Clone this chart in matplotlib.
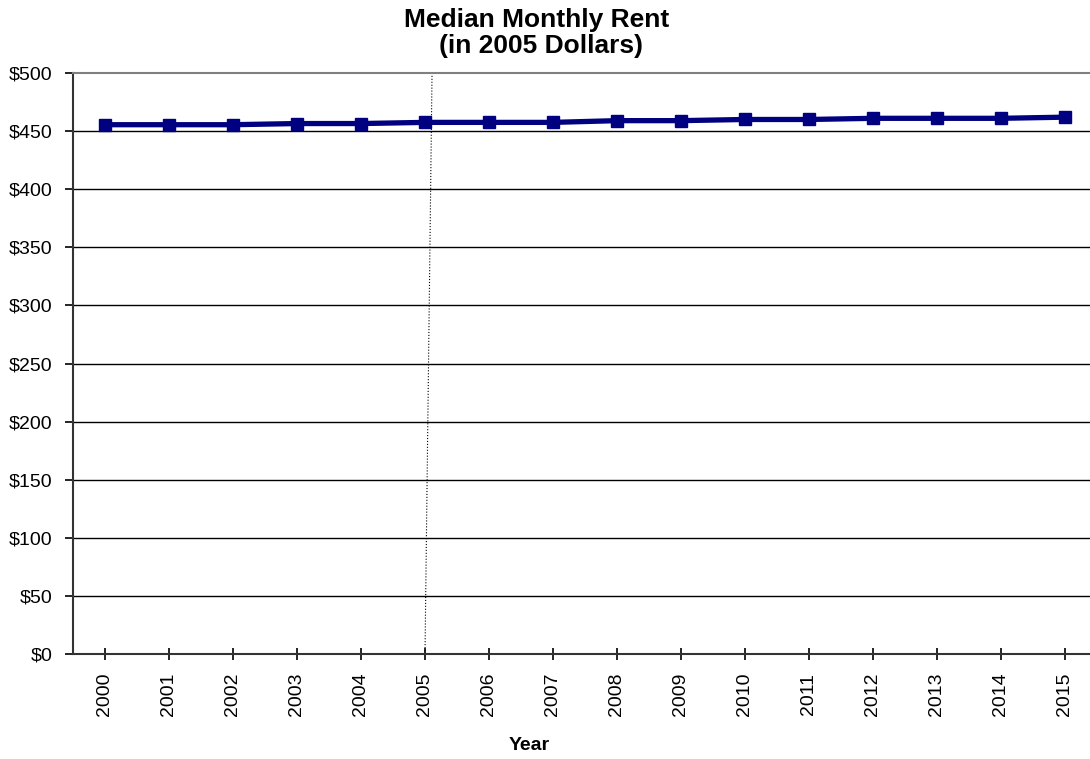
import matplotlib.pyplot as plt
from matplotlib.ticker import FuncFormatter

plt.rcParams['font.family'] = ['Liberation Sans', 'DejaVu Sans']

years = list(range(2000, 2016))
rent = [455.5, 455.5, 455.5, 456.5, 456.5, 457.5, 457.5, 457.5,
        459, 459, 460, 460, 461, 461, 461, 462]
y_ticks = list(range(0, 501, 50))
marker_year = [2005.0, 2005.11]
marker_rent = [0, 500]

fig = plt.figure(figsize=(10.9, 7.59), dpi=100)
ax = fig.add_axes([73 / 1090, 1 - 654 / 759, (1097 - 73) / 1090, (654 - 73) / 759])

ax.set_xlim(1999.5, 2015.5)
ax.set_ylim(0, 500)

for y in y_ticks[1:-1]:
    ax.axhline(y, color='black', linewidth=1.0, zorder=1)

# dotted reference line at the base year
ax.plot(marker_year, marker_rent, color='black', linestyle=':', linewidth=0.8, zorder=2)
ax.plot(years, rent, color='#000080', linewidth=3.8, marker='s', markersize=9, zorder=3)

ax.set_yticks(y_ticks)
ax.yaxis.set_major_formatter(FuncFormatter(lambda v, p: f"${v:.0f}"))
ax.set_xticks(years)
ax.set_xticklabels([str(y) for y in years], rotation=90)
ax.tick_params(axis='y', direction='out', length=6, width=1.2, labelsize=14, pad=9)
ax.tick_params(axis='x', direction='inout', length=9, width=1.2, labelsize=14, pad=9)

for side in ['left', 'bottom']:
    ax.spines[side].set_color('#333333')
    ax.spines[side].set_linewidth(1.5)
ax.spines['top'].set_color('#808080')
ax.spines['top'].set_linewidth(1.5)
ax.spines['right'].set_visible(False)

fig.text(529 / 1090, 1 - 746 / 759, "Year", ha='center', va='center',
         fontsize=14, fontweight='bold')
fig.text(537 / 1090, 1 - 20 / 759, "Median Monthly Rent",
         ha='center', va='center', fontsize=19, fontweight='bold')
fig.text(541 / 1090, 1 - 46 / 759, "(in 2005 Dollars)",
         ha='center', va='center', fontsize=19, fontweight='bold')

fig.savefig("out.png", dpi=100)
